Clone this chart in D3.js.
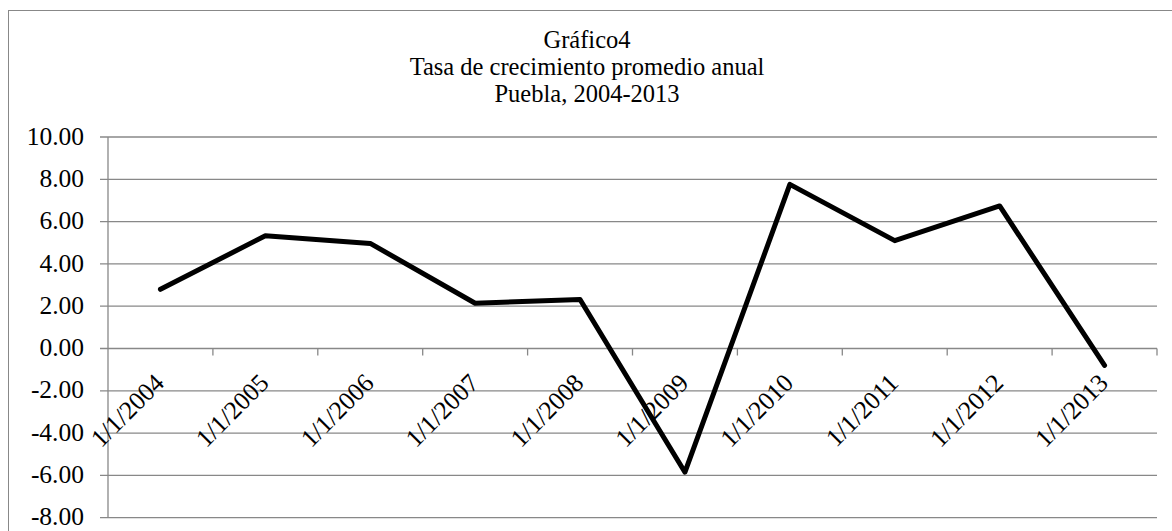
<!DOCTYPE html>
<html><head><meta charset="utf-8">
<script src="https://cdn.jsdelivr.net/npm/d3@7"></script>
<style>body{margin:0;background:#fff;}svg{display:block;font-family:"Liberation Serif","Times New Roman",serif;}</style>
</head><body><svg id="c" width="1172" height="531"></svg>
<script>
const categories = ["1/1/2004","1/1/2005","1/1/2006","1/1/2007","1/1/2008","1/1/2009","1/1/2010","1/1/2011","1/1/2012","1/1/2013"];
const values = [2.80, 5.33, 4.97, 2.14, 2.32, -5.85, 7.76, 5.10, 6.74, -0.80];
const yTicks = [10, 8, 6, 4, 2, 0, -2, -4, -6, -8];
const titleLines = ["Gráfico4", "Tasa de crecimiento promedio anual", "Puebla, 2004-2013"];

const svg = d3.select("#c");
const L = 108, R = 1157, T = 137, B = 517.7;
const grid = "#888";
const fs = 25.5;

// outer border (left + top visible)
svg.append("rect").attr("x", 8.5).attr("y", 10.5).attr("width", 1200).attr("height", 600)
  .attr("fill", "none").attr("stroke", grid).attr("stroke-width", 1);

const x = d3.scaleBand().domain(categories).range([L, R]).padding(0);
const y = d3.scaleLinear().domain([-8, 10]).range([B, T]);

// gridlines
svg.append("g").selectAll("line").data(yTicks).join("line")
  .attr("x1", L - 8).attr("x2", R).attr("y1", d => y(d)).attr("y2", d => y(d))
  .attr("stroke", grid).attr("stroke-width", 1.3);

// y axis line
svg.append("line").attr("x1", L).attr("x2", L).attr("y1", T).attr("y2", B)
  .attr("stroke", grid).attr("stroke-width", 1.3);

// y labels
svg.append("g").selectAll("text").data(yTicks).join("text")
  .attr("x", 84).attr("y", d => y(d)).attr("dy", "0.3em")
  .attr("text-anchor", "end").attr("font-size", fs).attr("fill", "#000")
  .text(d => d3.format(".2f")(d).replace("\u2212", "-"));

// category ticks on zero axis
const bounds = categories.map(c => x(c)).concat([R]);
svg.append("g").selectAll("line").data(bounds.slice(1)).join("line")
  .attr("x1", d => d).attr("x2", d => d).attr("y1", y(0)).attr("y2", y(0) + 7)
  .attr("stroke", grid).attr("stroke-width", 1.3);

// x labels rotated
svg.append("g").selectAll("text").data(categories).join("text")
  .attr("transform", c => `translate(${x(c) + x.bandwidth() / 2 + 5},${y(0) + 36}) rotate(-45)`)
  .attr("text-anchor", "end").attr("font-size", fs).attr("fill", "#000")
  .text(c => c);

// line
const line = d3.line().x((d, i) => x(categories[i]) + x.bandwidth() / 2).y(d => y(d));
svg.append("path").datum(values).attr("d", line)
  .attr("fill", "none").attr("stroke", "#000").attr("stroke-width", 5)
  .attr("stroke-linejoin", "round").attr("stroke-linecap", "round");

// title
svg.append("g").selectAll("text").data(titleLines).join("text")
  .attr("x", 587).attr("y", (d, i) => 48 + i * 27)
  .attr("text-anchor", "middle").attr("font-size", 24.5).attr("fill", "#000")
  .text(d => d);
</script></body></html>
